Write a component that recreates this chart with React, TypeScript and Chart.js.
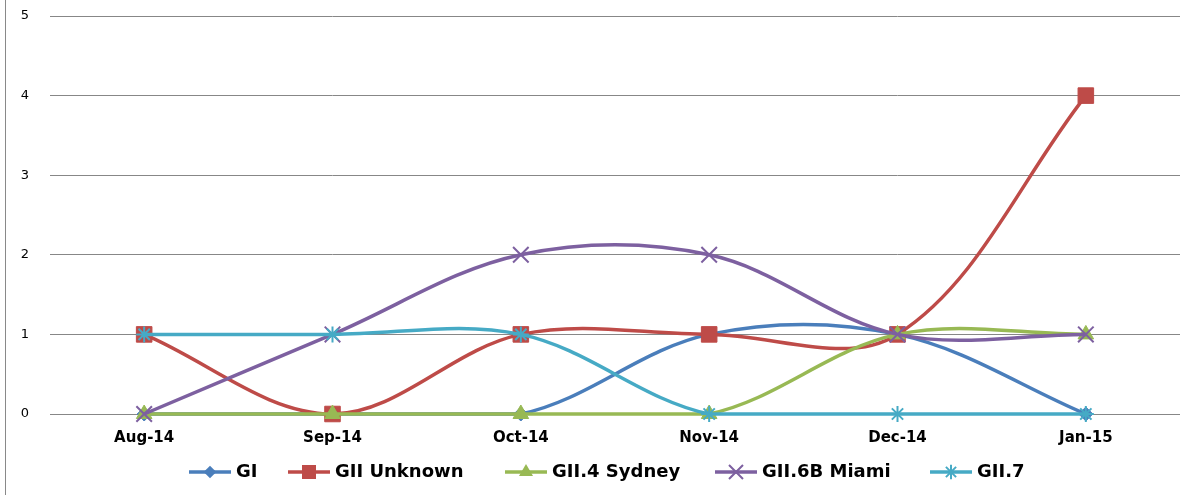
import React, { useEffect, useRef } from 'react';
import { Chart, registerables } from 'chart.js';

Chart.register(...registerables);

const categories = ['Aug-14', 'Sep-14', 'Oct-14', 'Nov-14', 'Dec-14', 'Jan-15'];
const seriesNames = ['GI', 'GII Unknown', 'GII.4 Sydney', 'GII.6B Miami', 'GII.7'];
const giValues = [0, 0, 0, 1, 1, 0];
const giiUnknownValues = [1, 0, 1, 1, 1, 4];
const gii4SydneyValues = [0, 0, 0, 0, 1, 1];
const gii6bMiamiValues = [0, 1, 2, 2, 1, 1];
const gii7Values = [1, 1, 1, 0, 0, 0];
const yMin = 0;
const yMax = 5;
const yStep = 1;

const seriesValues = [giValues, giiUnknownValues, gii4SydneyValues, gii6bMiamiValues, gii7Values];
const seriesColors = ['#4A7EBB', '#BE4B48', '#98B954', '#7D60A0', '#46AAC5'];
const markerStyles = ['rectRot', 'rect', 'triangle', 'crossRot', 'star'];
const markerRadius = [7, 11, 9, 11, 8];
const legendX = [189, 288, 505, 715, 930];

function drawMarker(ctx: CanvasRenderingContext2D, style: string, x: number, y: number, r: number, color: string) {
  ctx.save();
  ctx.fillStyle = color;
  ctx.strokeStyle = color;
  ctx.beginPath();
  if (style === 'rectRot') {
    ctx.moveTo(x, y - r);
    ctx.lineTo(x + r, y);
    ctx.lineTo(x, y + r);
    ctx.lineTo(x - r, y);
    ctx.closePath();
    ctx.fill();
  } else if (style === 'rect') {
    const s = Math.SQRT1_2 * r;
    ctx.rect(x - s, y - s, 2 * s, 2 * s);
    ctx.fill();
  } else if (style === 'triangle') {
    const a = Math.PI / 6;
    ctx.moveTo(x, y - r);
    ctx.lineTo(x + Math.cos(a) * r, y + Math.sin(a) * r);
    ctx.lineTo(x - Math.cos(a) * r, y + Math.sin(a) * r);
    ctx.closePath();
    ctx.fill();
  } else if (style === 'crossRot') {
    const o = Math.SQRT1_2 * r;
    ctx.lineWidth = 2;
    ctx.moveTo(x - o, y - o);
    ctx.lineTo(x + o, y + o);
    ctx.moveTo(x - o, y + o);
    ctx.lineTo(x + o, y - o);
    ctx.stroke();
  } else if (style === 'star') {
    const o = Math.SQRT1_2 * r;
    ctx.lineWidth = 2;
    ctx.moveTo(x - o, y - o);
    ctx.lineTo(x + o, y + o);
    ctx.moveTo(x - o, y + o);
    ctx.lineTo(x + o, y - o);
    ctx.moveTo(x, y - r);
    ctx.lineTo(x, y + r);
    ctx.moveTo(x - r, y);
    ctx.lineTo(x + r, y);
    ctx.stroke();
  }
  ctx.restore();
}

const frameAndLegend = {
  id: 'frameAndLegend',
  afterDraw(chart: any) {
    const ctx: CanvasRenderingContext2D = chart.ctx;
    ctx.save();
    ctx.strokeStyle = '#898989';
    ctx.lineWidth = 1;
    ctx.beginPath();
    ctx.moveTo(5.5, 0);
    ctx.lineTo(5.5, chart.height);
    ctx.stroke();

    const y = 472;
    chart.data.datasets.forEach((ds: any, i: number) => {
      const x0 = legendX[i];
      ctx.strokeStyle = ds.borderColor;
      ctx.lineWidth = 3.5;
      ctx.beginPath();
      ctx.moveTo(x0, y);
      ctx.lineTo(x0 + 42, y);
      ctx.stroke();
      drawMarker(ctx, markerStyles[i], x0 + 21, y, markerRadius[i] * 0.9, ds.borderColor);
      ctx.fillStyle = '#000000';
      ctx.font = 'bold 18px "DejaVu Sans"';
      ctx.textAlign = 'left';
      ctx.textBaseline = 'middle';
      ctx.fillText(ds.label, x0 + 47, y);
    });
    ctx.restore();
  },
};

export default function App() {
  const canvasRef = useRef<HTMLCanvasElement | null>(null);

  useEffect(() => {
    if (!canvasRef.current) return;
    const datasets = seriesNames.map((name, i) => ({
      label: name,
      data: seriesValues[i],
      borderColor: seriesColors[i],
      backgroundColor: seriesColors[i],
      borderWidth: 3.5,
      tension: 0.35,
      pointStyle: markerStyles[i],
      pointRadius: markerRadius[i],
      pointBorderWidth: markerStyles[i] === 'crossRot' || markerStyles[i] === 'star' ? 2 : 1,
      pointBackgroundColor: seriesColors[i],
      pointBorderColor: seriesColors[i],
      order: seriesNames.length - 1 - i,
      clip: false,
      fill: false,
    }));

    const chart = new Chart(canvasRef.current, {
      type: 'line',
      data: { labels: categories, datasets },
      options: {
        animation: false,
        responsive: false,
        maintainAspectRatio: false,
        layout: { autoPadding: false, padding: { left: 0, right: 8, top: 16, bottom: 0 } },
        plugins: {
          legend: { display: false },
          tooltip: { enabled: false },
        },
        scales: {
          x: {
            type: 'category',
            offset: true,
            grid: { display: false },
            border: { display: false },
            ticks: {
              color: '#000000',
              font: { family: '"DejaVu Sans"', size: 15, weight: 'bold' },
              padding: 7,
              maxRotation: 0,
              autoSkip: false,
            },
            afterFit: (s: any) => {
              s.height = 81;
              s.paddingLeft = 0;
              s.paddingRight = 0;
            },
          },
          y: {
            min: yMin,
            max: yMax,
            ticks: {
              stepSize: yStep,
              color: '#000000',
              font: { family: '"DejaVu Sans"', size: 13 },
              padding: 21,
            },
            grid: { color: '#878787', lineWidth: 1, drawTicks: false },
            border: { display: false },
            afterFit: (s: any) => {
              s.width = 50;
              s.paddingTop = 0;
              s.paddingBottom = 0;
            },
          },
        },
      },
      plugins: [frameAndLegend],
    } as any);

    return () => {
      chart.destroy();
    };
  }, []);

  return (
    <div style={{ position: 'fixed', left: 0, top: 0, width: 1188, height: 495, background: '#ffffff' }}>
      <canvas ref={canvasRef} width={1188} height={495} style={{ display: 'block' }} />
    </div>
  );
}
